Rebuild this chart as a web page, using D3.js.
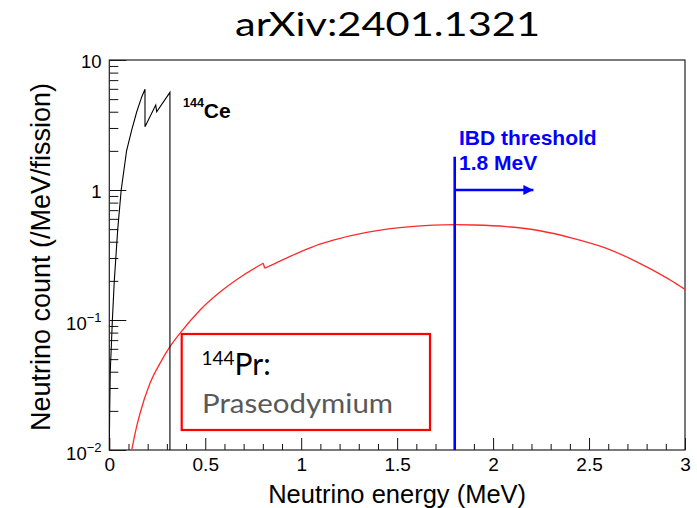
<!DOCTYPE html>
<html>
<head>
<meta charset="utf-8">
<script src="https://cdn.jsdelivr.net/npm/d3@7"></script>
<style>
  html, body { margin: 0; padding: 0; background: #fff; }
  svg { display: block; }
</style>
</head>
<body>
<div id="chart"></div>
<script>
// ---------- data ----------
const chartTitle = "arXiv:2401.1321";
const xTitle = "Neutrino energy (MeV)";
const yTitle = "Neutrino count (/MeV/fission)";

const xMajorTicks = [0, 0.5, 1, 1.5, 2, 2.5, 3];
const xTickLabels = ["0", "0.5", "1", "1.5", "2", "2.5", "3"];
const yMajorTicks = [0.01, 0.1, 1, 10];
const yTickBase = ["10", "10", "1", "10"];
const yTickExp = ["\u22122", "\u22121", "", ""];

// 144Ce spectrum (black)
const ceEnergy = [0, 0.002, 0.005, 0.01, 0.016, 0.026, 0.044, 0.062, 0.09, 0.117, 0.143, 0.169, 0.186, 0.186, 0.242, 0.247, 0.316, 0.316];
const ceCount  = [0.01, 0.02, 0.04, 0.06, 0.1, 0.2, 0.5, 1.0, 2.0, 2.9, 4.0, 5.2, 5.95, 3.07, 4.5, 4.0, 5.64, 0.01];

// 144Pr spectrum (red)
const prEnergy = [0.117, 0.14, 0.16, 0.212, 0.264, 0.316, 0.368, 0.472, 0.59, 0.70, 0.802, 0.81, 0.9, 0.993, 1.097, 1.167, 1.341, 1.514, 1.688, 1.8, 1.9, 2.07, 2.243, 2.417, 2.591, 2.764, 2.938, 3.0];
const prCount  = [0.01, 0.0146, 0.0191, 0.0326, 0.0464, 0.0624, 0.079, 0.119, 0.17, 0.222, 0.273, 0.25, 0.289, 0.333, 0.383, 0.412, 0.473, 0.514, 0.537, 0.541, 0.538, 0.523, 0.486, 0.425, 0.356, 0.273, 0.197, 0.172];

// IBD threshold marker
const ibdEnergy = 1.8;
const ibdLineTop = 1.8;     // count value where the marker line ends
const ibdArrowLevel = 1.0;  // count value of arrow
const ibdArrowEnd = 2.21;   // energy of arrow tip

// ---------- layout ----------
const W = 697, H = 508;
const L = 109.3, R = 685, T = 60, B = 450;

const svg = d3.select("#chart").append("svg")
  .attr("width", W).attr("height", H)
  .attr("viewBox", `0 0 ${W} ${H}`);

const x = d3.scaleLinear().domain([0, 3]).range([L, R]);
const y = d3.scaleLog().domain([0.01, 10]).range([B, T]);

const rootFont = "'Liberation Sans', Arial, Helvetica, sans-serif";
const calFont = "Lato, 'Open Sans', sans-serif";

// title
svg.append("text")
  .attr("x", 235).attr("y", 36)
  .attr("textLength", 305)
  .attr("lengthAdjust", "spacingAndGlyphs")
  .style("font-family", calFont)
  .style("font-size", "33px")
  .attr("fill", "#000")
  .text(chartTitle);

// clip
svg.append("defs").append("clipPath").attr("id", "plotclip")
  .append("rect").attr("x", L).attr("y", T).attr("width", R - L).attr("height", B - T);

// ---------- axes ----------
// x minor ticks
const xMinor = d3.range(0, 31).map(i => i / 10).filter(v => Math.abs(v * 2 - Math.round(v * 2)) > 1e-6);
const gxMinor = svg.append("g").attr("transform", `translate(0,${B})`)
  .call(d3.axisBottom(x).tickValues(xMinor).tickSize(-6).tickFormat(""));
gxMinor.select(".domain").remove();
gxMinor.selectAll("line").attr("stroke", "#111");

const gx = svg.append("g").attr("transform", `translate(0,${B})`)
  .call(d3.axisBottom(x).tickValues(xMajorTicks).tickSize(-12).tickPadding(8)
    .tickFormat((d, i) => xTickLabels[i]));
gx.select(".domain").remove();
gx.selectAll("line").attr("stroke", "#111");
gx.selectAll("text")
  .style("font-family", rootFont).style("font-size", "19px").attr("fill", "#000");

// y minor ticks
const yMinor = [];
[0.01, 0.1, 1].forEach(dec => { for (let k = 2; k <= 9; k++) yMinor.push(dec * k); });
const gyMinor = svg.append("g").attr("transform", `translate(${L},0)`)
  .call(d3.axisLeft(y).tickValues(yMinor).tickSize(-9).tickFormat(""));
gyMinor.select(".domain").remove();
gyMinor.selectAll("line").attr("stroke", "#111");

const gy = svg.append("g").attr("transform", `translate(${L},0)`)
  .call(d3.axisLeft(y).tickValues(yMajorTicks).tickSize(-17).tickFormat(""));
gy.select(".domain").remove();
gy.selectAll("line").attr("stroke", "#111");

// y tick labels with superscripts
yMajorTicks.forEach((v, i) => {
  const hasExp = yTickExp[i] !== "";
  const t = svg.append("text")
    .attr("x", 101.5)
    .attr("y", y(v) + (hasExp ? 10 : 8.3))
    .attr("text-anchor", "end")
    .style("font-family", rootFont)
    .style("font-size", "18.5px")
    .attr("fill", "#000");
  t.append("tspan").text(yTickBase[i]);
  if (hasExp) {
    t.append("tspan").attr("dy", -8).style("font-size", "13px").text(yTickExp[i]);
  }
});

// frame
svg.append("rect")
  .attr("x", L).attr("y", T).attr("width", R - L).attr("height", B - T)
  .attr("fill", "none").attr("stroke", "#222").attr("stroke-width", 1.2);

// axis titles
svg.append("text")
  .attr("x", (L + R) / 2).attr("y", 503)
  .attr("text-anchor", "middle")
  .style("font-family", rootFont).style("font-size", "25.5px")
  .attr("fill", "#000")
  .text(xTitle);

svg.append("text")
  .attr("transform", `translate(50,${(T + B) / 2 + 2}) rotate(-90)`)
  .attr("text-anchor", "middle")
  .style("font-family", rootFont).style("font-size", "27px")
  .attr("fill", "#000")
  .text(yTitle);

// ---------- curves ----------
const plot = svg.append("g").attr("clip-path", "url(#plotclip)");

const ceData = ceEnergy.map((e, i) => [e, ceCount[i]]);
const prData = prEnergy.map((e, i) => [e, prCount[i]]);

const lineLin = d3.line().x(d => x(d[0])).y(d => y(d[1]));
const lineSmooth = d3.line().x(d => x(d[0])).y(d => y(d[1])).curve(d3.curveMonotoneX);

// find jump in Pr spectrum (first decrease)
let jump = prData.findIndex((d, i) => i > 0 && d[1] < prData[i - 1][1] && d[0] < 1);
const prA = prData.slice(0, jump);
const prB = prData.slice(jump);

plot.append("path").attr("d", lineSmooth(prA))
  .attr("fill", "none").attr("stroke", "#ff2a2a").attr("stroke-width", 1.3);
plot.append("path").attr("d", lineLin([prData[jump - 1], prData[jump]]))
  .attr("fill", "none").attr("stroke", "#ff2a2a").attr("stroke-width", 1.3);
plot.append("path").attr("d", lineSmooth(prB))
  .attr("fill", "none").attr("stroke", "#ff2a2a").attr("stroke-width", 1.3);

plot.append("path").attr("d", lineLin(ceData))
  .attr("fill", "none").attr("stroke", "#000").attr("stroke-width", 1.1);

// IBD threshold
svg.append("defs").append("marker")
  .attr("id", "arrowhead").attr("viewBox", "0 0 10 10")
  .attr("refX", 10).attr("refY", 5)
  .attr("markerWidth", 13).attr("markerHeight", 10)
  .attr("markerUnits", "userSpaceOnUse")
  .attr("orient", "auto")
  .append("path").attr("d", "M0,0 L10,5 L0,10 Z").attr("fill", "#0000ff");

svg.append("line")
  .attr("x1", x(ibdEnergy)).attr("x2", x(ibdEnergy))
  .attr("y1", y(0.01)).attr("y2", y(ibdLineTop))
  .attr("stroke", "#0000ff").attr("stroke-width", 2.6);
svg.append("line")
  .attr("x1", x(ibdEnergy)).attr("x2", x(ibdArrowEnd))
  .attr("y1", y(ibdArrowLevel)).attr("y2", y(ibdArrowLevel))
  .attr("stroke", "#0000ff").attr("stroke-width", 2.4)
  .attr("marker-end", "url(#arrowhead)");

svg.append("text")
  .attr("x", 459).attr("y", 145)
  .style("font-family", rootFont).style("font-size", "21px").style("font-weight", "bold")
  .attr("fill", "#0000ff")
  .text("IBD threshold");
svg.append("text")
  .attr("x", 459).attr("y", 170)
  .style("font-family", rootFont).style("font-size", "21px").style("font-weight", "bold")
  .attr("fill", "#0000ff")
  .text("1.8 MeV");

// 144Ce label
const ceLab = svg.append("text")
  .attr("x", 183).attr("y", 118)
  .style("font-family", rootFont).style("font-weight", "bold")
  .attr("fill", "#000");
ceLab.append("tspan").attr("dy", -11).style("font-size", "12.5px").text("144");
ceLab.append("tspan").attr("dy", 11).style("font-size", "21px").text("Ce");

// 144Pr annotation box
svg.append("rect")
  .attr("x", 181.7).attr("y", 334).attr("width", 248.3).attr("height", 96)
  .attr("fill", "#fff").attr("stroke", "#ff0000").attr("stroke-width", 2.2);

const prLab = svg.append("text")
  .attr("x", 201.5).attr("y", 375)
  .style("font-family", calFont)
  .attr("fill", "#000");
prLab.append("tspan").attr("dy", -10).style("font-size", "19px").text("144");
prLab.append("tspan").attr("dy", 10).style("font-size", "30px").text("Pr:");

svg.append("text")
  .attr("x", 202).attr("y", 412.7)
  .attr("textLength", 191)
  .attr("lengthAdjust", "spacingAndGlyphs")
  .style("font-family", calFont).style("font-size", "27.5px")
  .attr("fill", "#595959")
  .text("Praseodymium");
</script>
</body>
</html>
